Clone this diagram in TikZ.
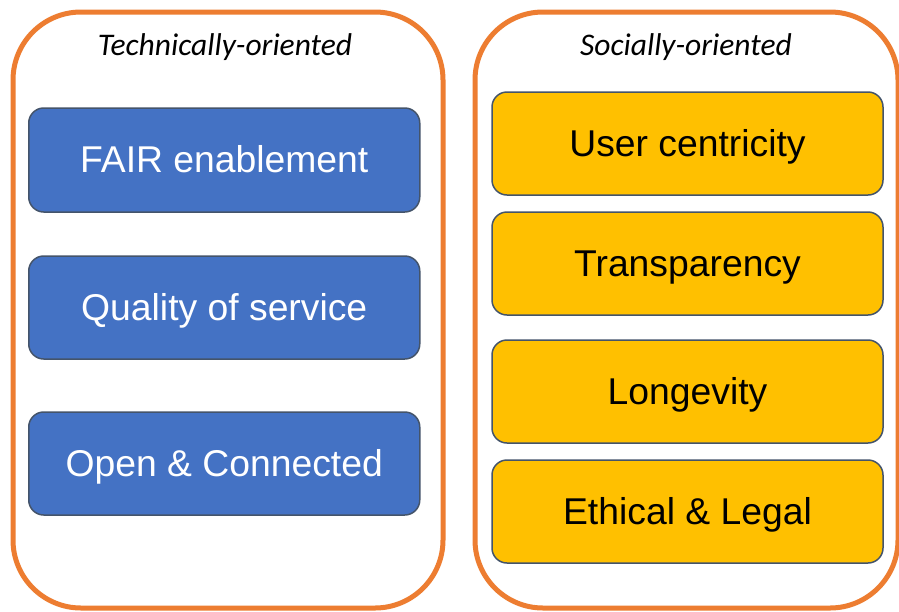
\documentclass[tikz,border=0pt]{standalone}
\usepackage{fontspec}
\setmainfont{Liberation Sans}
\newfontfamily\hdrfont{Carlito}
\definecolor{outerorange}{HTML}{ED7D31}
\definecolor{boxblue}{HTML}{4472C4}
\definecolor{boxyellow}{HTML}{FFC000}
\definecolor{boxedge}{HTML}{44546A}
\begin{document}
\begin{tikzpicture}[x=1pt,y=-1pt,
  outerbox/.style={draw=outerorange,line width=5pt,rounded corners=68pt},
  itembox/.style={draw=boxedge,line width=1.5pt,rounded corners=15pt,
    minimum width=391pt,minimum height=103pt,inner sep=0pt,
    text height=33.8pt,text depth=7.9pt,
    font=\fontsize{37.3}{41}\selectfont},
  bluebox/.style={itembox,fill=boxblue,text=white},
  yellowbox/.style={itembox,fill=boxyellow,text=black},
  header/.style={anchor=base,font=\hdrfont\itshape\fontsize{31.5}{34}\selectfont}]
\useasboundingbox (0,0) rectangle (899,611);
\fill[white] (0,0) rectangle (899,611);
\draw[outerbox] (13,12) rectangle (443,608);
\draw[outerbox] (475,12) rectangle (898,608);
\node[header] (lh) at (225,55) {Technically-oriented};
\node[header] (rh) at (686,55) {Socially-oriented};
\node[bluebox,minimum height=104pt] (b1) at (224.25,160) {FAIR enablement};
\node[bluebox] (b2) at (224.25,307.5) {Quality of service};
\node[bluebox] (b3) at (224.25,463.5) {Open \& Connected};
\node[yellowbox] (y1) at (687.5,143.5) {User centricity};
\node[yellowbox] (y2) at (687.5,263.5) {Transparency};
\node[yellowbox] (y3) at (687.5,391.5) {Longevity};
\node[yellowbox] (y4) at (687.5,511.5) {Ethical \& Legal};
\end{tikzpicture}
\end{document}
